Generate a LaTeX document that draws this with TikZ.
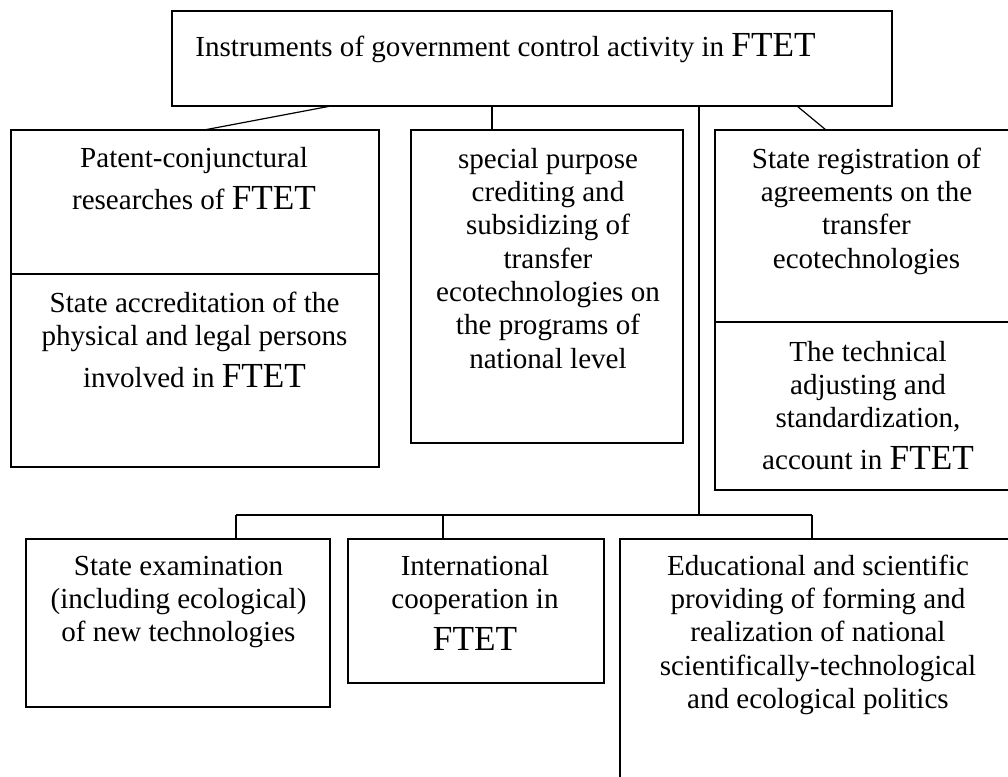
\documentclass[tikz,border=0pt]{standalone}
\usepackage{fontspec}
\setmainfont{Liberation Serif}
\usetikzlibrary{fit}
\newcommand\fl{\rule{0pt}{20pt}}
\newcommand\ftet{{\fontsize{26.4}{30}\selectfont FTET}}
\tikzset{
  box/.style={draw, line width=1.2pt, inner sep=0pt, rectangle},
  conn/.style={line width=0.9pt},
  txt/.style={align=center, inner sep=0pt, anchor=north, font=\fontsize{21.8}{25}\selectfont},
}
\begin{document}
\begin{tikzpicture}[x=0.75pt, y=-0.75pt]
\useasboundingbox (0,0) rectangle (1008,776);
\clip (0,0) rectangle (1008,776);
% boxes
\node[box, fit={(172,11) (892,106)}] (top) {};
\node[box, fit={(11,130) (379,274)}] (l1) {};
\node[box, fit={(11,274) (379,467)}] (l2) {};
\node[box, fit={(411,130) (683,443)}] (m) {};
\node[box, fit={(715,130) (1018,322)}] (r1) {};
\node[box, fit={(715,322) (1018,490)}] (r2) {};
\node[box, fit={(26,539) (330,707)}] (b1) {};
\node[box, fit={(348,539) (604,683)}] (b2) {};
\node[box, fit={(620,539) (1016,800)}] (b3) {};
% texts
\node[txt] (topt) at (505.5,29.3) {\fl Instruments of government control activity in \ftet};
\node[txt] (l1t) at (194,140.3) {\fl Patent-conjunctural\\[6.5pt] researches of \ftet};
\node[txt] (l2t) at (194.5,285.3) {\fl State accreditation of the\\ physical and legal persons\\[6.5pt] involved in \ftet};
\node[txt] (mt) at (548,141.3) {\fl special purpose\\ crediting and\\ subsidizing of\\ transfer\\ ecotechnologies on\\ the programs of\\ national level};
\node[txt] (r1t) at (866.5,141.3) {\fl State registration of\\ agreements on the\\ transfer\\ ecotechnologies};
\node[txt] (r2t) at (868,334.3) {\fl The technical\\ adjusting and\\ standardization,\\[6.5pt] account in \ftet};
\node[txt] (b1t) at (178.5,548.3) {\fl State examination\\ (including ecological)\\ of new technologies};
\node[txt] (b2t) at (475,548.3) {\fl International\\ cooperation in\\[6.5pt] \ftet};
\node[txt] (b3t) at (818,548.3) {\fl Educational and scientific\\ providing of forming and\\ realization of national\\ scientifically-technological\\ and ecological politics};
% connector points
\coordinate (t1) at (331,106);
\coordinate (t2) at (492,106);
\coordinate (t3) at (699,106);
\coordinate (t4) at (797,106);
\coordinate (e1) at (204,130);
\coordinate (e2) at (492,130);
\coordinate (e4) at (826,130);
\coordinate (bus) at (699,515);
\coordinate (busl) at (236,515);
\coordinate (busm) at (443,515);
\coordinate (busr) at (812,515);
\coordinate (d1) at (236,539);
\coordinate (d2) at (443,539);
\coordinate (d3) at (812,539);
% connectors
\draw[conn] (t1) -- (e1);
\draw[conn] (t2) -- (e2);
\draw[conn] (t4) -- (e4);
\draw[conn] (t3) -- (bus);
\draw[conn] (busl) -- (busr);
\draw[conn] (busl) -- (d1);
\draw[conn] (busm) -- (d2);
\draw[conn] (busr) -- (d3);
\end{tikzpicture}
\end{document}
